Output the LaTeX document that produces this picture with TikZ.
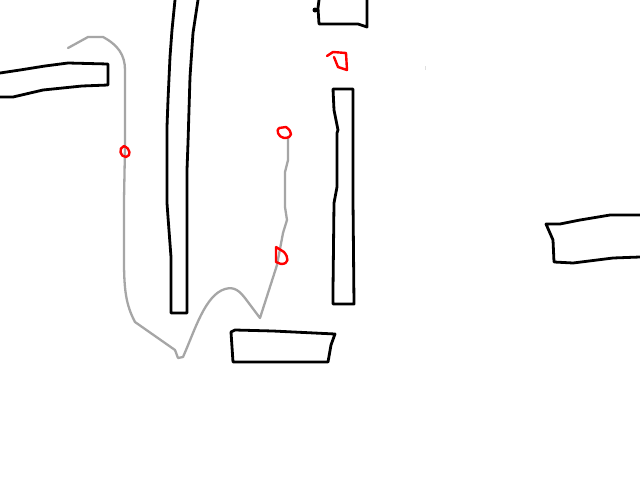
\documentclass[tikz,border=0pt]{standalone}
\begin{document}
\begin{tikzpicture}[x=1pt,y=-1pt,
  wall/.style={draw=black,line width=2.8pt,line join=round,line cap=round},
  trail/.style={draw=black!35,line width=2.3pt,line join=round,line cap=round},
  redmark/.style={draw=red,line width=2.4pt,line join=round,line cap=round}]
\useasboundingbox[fill=white] (0,0) rectangle (640,480);
% top-left bar
\draw[wall] (0,73) -- (20,70) -- (45,66) -- (68,63) -- (108,64) -- (108,85) -- (82,86) -- (43,90) -- (13,97) -- (0,97);
% tall vertical bar
\draw[wall] (175,0) -- (172,30) -- (170,57) -- (168,100) -- (167,127) -- (167,203) -- (168,217) -- (171,257) -- (171,313) -- (187,313) -- (187,170) -- (188,143) -- (190,77) -- (193,33) -- (198,0);
% top middle box
\draw[wall] (319,0) -- (318,8) -- (319,24) -- (358,24) -- (367,27) -- (367,0);
\fill (315,10) circle (2.5);
% right vertical bar
\draw[wall] (333,89) -- (353,89) -- (353,200) -- (354,304) -- (333,304) -- (333,290) -- (334,203) -- (337,187) -- (337,133) -- (338,130) -- (334,110) -- (333,89);
% bottom box
\draw[wall] (235,330) -- (273,331) -- (335,334) -- (331,345) -- (328,362) -- (233,362) -- (232,347) -- (231,332) -- cycle;
% right box
\draw[wall] (640,215) -- (610,215) -- (580,220) -- (560,224) -- (546,224) -- (553,240) -- (554,262) -- (573,263) -- (613,258) -- (640,257);
% gray trail
\draw[trail] (68,48) -- (88,37) -- (103,37) .. controls (118,45) and (125,55) .. (125,70) -- (125,147) -- (124,200) -- (124,260) .. controls (124,290) and (126,305) .. (135,322) -- (175,350) -- (178,358) -- (183,357) .. controls (195,330) and (205,295) .. (225,289) .. controls (235,286) and (240,292) .. (245,298) -- (260,318) -- (277,265) -- (283,233) -- (287,220) -- (285,207) -- (285,172) -- (288,160) -- (288,137);
\draw[draw=black!12,line width=1pt] (425,66) -- (425,70);
% red marks
\draw[redmark] (327,56) -- (333,52) -- (346,53) -- (347,70) -- (338,67) -- (334,57);
\draw[redmark] (124,146) .. controls (118,148) and (120,157) .. (126,157) .. controls (131,156) and (131,149) .. (124,146);
\draw[redmark] (279,128) .. controls (276,130) and (278,137) .. (284,138) .. controls (293,138) and (293,132) .. (286,127) -- (279,128);
\draw[redmark] (276,247) -- (276,262) -- (281,264) .. controls (289,264) and (289,258) .. (284,252) -- (276,247);
\end{tikzpicture}
\end{document}
